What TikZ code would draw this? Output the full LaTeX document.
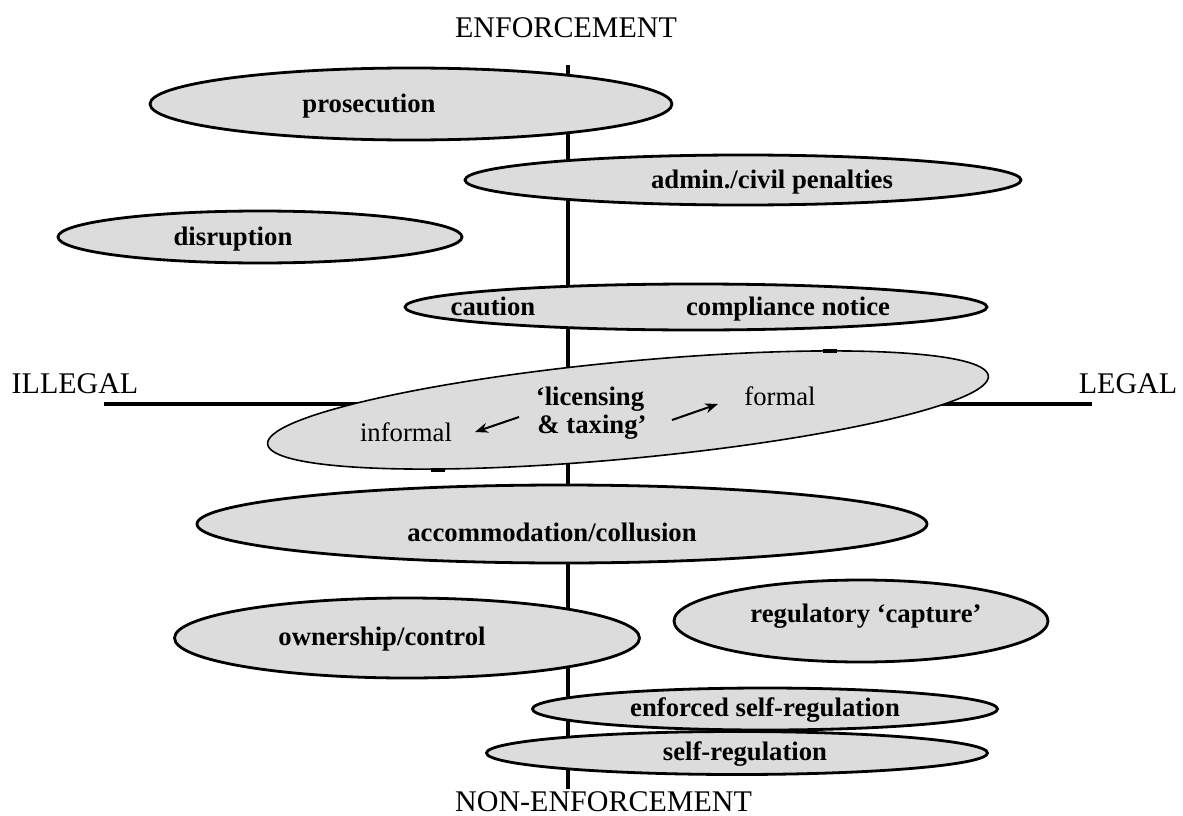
\documentclass[tikz,border=0pt]{standalone}
\usepackage{fontspec}
\setmainfont{Liberation Serif}
\usetikzlibrary{shapes.geometric,arrows.meta}
\definecolor{ellfill}{RGB}{220,220,220}
\tikzset{
  ell/.style={ellipse, draw=black, line width=2.8pt, fill=ellfill, inner sep=0pt},
  lab/.style={font=\fontsize{26.7}{30}\selectfont\bfseries, inner sep=0pt, text height=18pt, text depth=2pt},
  plain/.style={font=\fontsize{26.7}{30}\selectfont, inner sep=0pt, text height=18pt, text depth=2pt},
  axlab/.style={font=\fontsize{30}{34}\selectfont, inner sep=0pt},
  axis/.style={line width=3.2pt},
  arr/.style={line width=2pt, -{Stealth[length=13pt,width=10pt]}},
  tick/.style={line width=3.5pt}
}
\begin{document}
\begin{tikzpicture}[x=1pt,y=-1pt]
\useasboundingbox (0,0) rectangle (1183,816);
% axes
\coordinate (vtop) at (568,65);
\coordinate (vbot) at (568,789);
\coordinate (hl) at (104,404);
\coordinate (hr) at (1092,404);
\draw[axis] (vtop) -- (vbot);
\draw[axis] (hl) -- (hr);
% axis labels
\node[axlab] (enf) at (566,28) {ENFORCEMENT};
\node[axlab, anchor=base west, text depth=0pt] (nonenf) at (455,811) {NON-ENFORCEMENT};
\node[axlab] (illegal) at (75,384) {ILLEGAL};
\node[axlab] (legal) at (1128,384) {LEGAL};
% ellipses
\node[ell, minimum width=522pt, minimum height=72pt] (pros) at (411,104) {};
\node[lab] (prost) at (369,104) {prosecution};
\node[ell, minimum width=556pt, minimum height=50pt] (admin) at (743,180) {};
\node[lab] (admint) at (772,180) {admin./civil penalties};
\node[ell, minimum width=404pt, minimum height=52pt] (disr) at (260,237) {};
\node[lab] (disrt) at (233,237) {disruption};
\node[ell, minimum width=582pt, minimum height=46pt] (caut) at (696,307) {};
\node[lab] (cautt) at (493,307) {caution};
\node[lab] (compt) at (788,307) {compliance notice};
% tilted licensing ellipse
\node[ellipse, draw=black, line width=1.6pt, fill=ellfill, inner sep=0pt,
      minimum width=724pt, minimum height=97pt, rotate=5.4] (lic) at (628,410) {};
\coordinate (mk1a) at (823,351); \coordinate (mk1b) at (837,351);
\coordinate (mk2a) at (431,470); \coordinate (mk2b) at (445,470);
\draw[tick] (mk1a) -- (mk1b);
\draw[tick] (mk2a) -- (mk2b);
\node[lab] (lict1) at (590,397) {`licensing};
\node[lab] (lict2) at (592,425) {\& taxing'};
\node[plain] (inf) at (406,433) {informal};
\node[plain] (form) at (780,397) {formal};
\coordinate (a1s) at (519,417); \coordinate (a1e) at (475,432);
\coordinate (a2s) at (672,420); \coordinate (a2e) at (718,404);
\draw[arr] (a1s) -- (a1e);
\draw[arr] (a2s) -- (a2e);
% lower ellipses
\node[ell, minimum width=730pt, minimum height=78pt] (acc) at (562,524) {};
\node[lab] (acct) at (552,533) {accommodation/collusion};
\node[ell, minimum width=374pt, minimum height=82pt] (cap) at (861,621) {};
\node[lab] (capt) at (866,614) {regulatory `capture'};
\node[ell, minimum width=465pt, minimum height=80pt] (own) at (407,638) {};
\node[lab] (ownt) at (382,637) {ownership/control};
\node[ell, minimum width=465pt, minimum height=42pt] (esr) at (765,709) {};
\node[lab] (esrt) at (765,708) {enforced self-regulation};
\node[ell, minimum width=501pt, minimum height=43pt] (sr) at (737,753) {};
\node[lab] (srt) at (745,752) {self-regulation};
\end{tikzpicture}
\end{document}
